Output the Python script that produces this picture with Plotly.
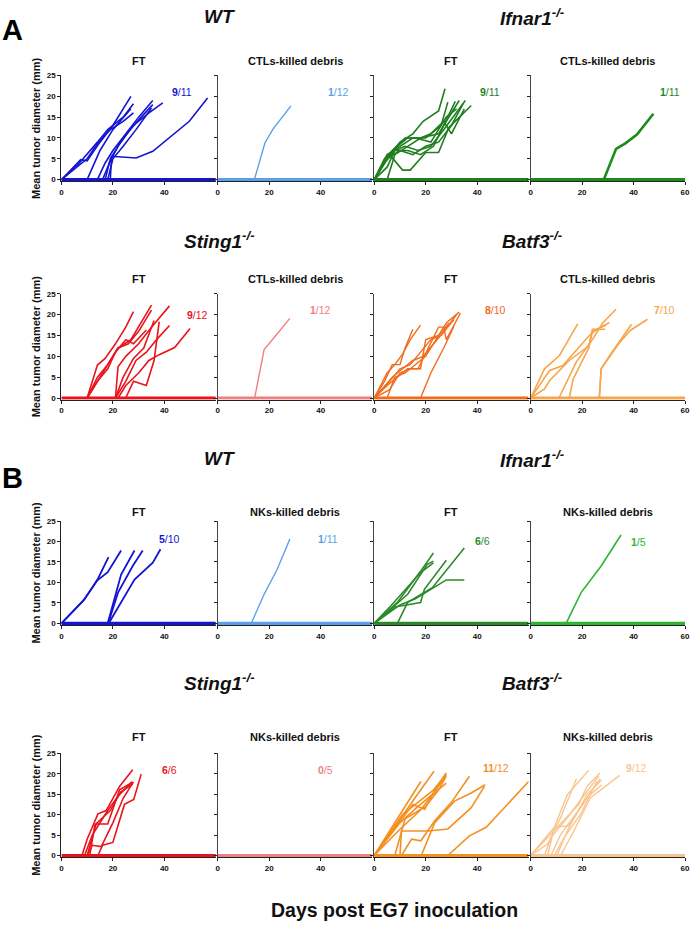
import plotly.graph_objects as go

W, H = 696, 926

# ---------------- DATA (days post inoculation, mean tumour diameter mm) ----------------
# Panel A, row 1: WT
A_WT_FT_DAYS = [[0, 7.5, 10, 15, 20, 27], [0, 7, 14, 18, 24, 28], [0, 10, 15, 19, 24, 28],
                [10, 15, 20, 27], [14, 17, 20, 25, 30, 35.5], [16, 19, 22, 26, 31, 35.5],
                [18, 20, 24, 29, 35], [17, 19, 23, 28, 34, 39.4],
                [19, 19.5, 29, 35.5, 49.7, 56.8]]
A_WT_FT_MM = [[0, 4.8, 4.5, 9, 13, 20], [0, 4, 9, 12, 15, 18.2], [0, 5, 9.5, 12, 14, 16],
              [0, 7, 12, 17], [0, 4, 7, 11, 15, 19], [0, 4.5, 8, 11.5, 15, 18],
              [0, 5, 8, 12, 17.2], [0, 5, 9, 13, 16, 18.4],
              [0, 5.6, 5.2, 6.8, 14, 19.6]]
A_WT_CTL_DAYS = [[14.2, 18.3, 21.3, 28.4]]
A_WT_CTL_MM = [[0, 8.8, 12, 17.7]]

# Panel A, row 1: Ifnar1-/-
A_IF_FT_DAYS = [[0, 5, 10, 15, 19, 25, 27.5], [0, 5, 10, 15, 20, 26, 28.6],
                [0, 4, 8, 13, 18, 23, 27, 31.5], [0, 5, 8, 12, 17, 22, 27, 35.4],
                [0, 6, 11, 14, 20, 25, 29, 37.7], [0, 5, 10, 15, 20, 25, 30, 34.5],
                [5, 8, 13, 18, 22, 27, 30, 35], [0, 4, 9, 13, 18, 25, 30, 33],
                [0, 7, 12, 16, 22, 28, 32]]
A_IF_FT_MM = [[0, 5, 9, 11, 14, 16.5, 21.8], [0, 6, 8, 10, 10, 13, 18.6],
              [0, 4, 7, 7, 6, 8, 13, 18.8], [0, 3, 7, 8, 7, 8, 12, 19],
              [0, 6, 2.3, 2.3, 6.5, 6.5, 12.5, 17.8], [0, 5, 7, 6, 8, 9, 13, 18.2],
              [0, 6, 8, 10, 11, 14, 11, 17], [0, 5, 8, 10, 10, 11, 16, 19],
              [0, 7, 10, 10, 9, 15, 17]]
A_IF_CTL_DAYS = [[28.4, 33.2, 36.8, 41.3, 47.7]]
A_IF_CTL_MM = [[0, 7.4, 8.7, 10.8, 15.8]]

# Panel A, row 2: Sting1-/-
A_ST_FT_DAYS = [[10, 14, 17, 21, 25, 28], [10, 14, 18, 22, 27, 30, 35],
                [10, 14, 18, 21, 25, 28, 33], [10, 15, 19, 22, 26, 30, 35],
                [21, 22, 25, 30, 35, 42], [21, 25, 29, 33, 37, 42],
                [22, 25, 30, 34, 38, 44, 50], [25, 28, 33, 36, 38],
                [21, 24, 28, 32, 36]]
A_ST_FT_MM = [[0, 7.9, 9.5, 13, 17, 20.7], [0, 5, 8, 12, 14, 17, 22.3],
              [0, 4, 7, 11, 14, 13, 16.3], [0, 5, 9, 12, 13, 16, 21.1],
              [0, 7.5, 10, 13, 17, 22.1], [0, 4, 9, 11, 14, 17.4],
              [0, 3, 6, 9, 10.4, 12.1, 16.7], [0, 4, 3, 9, 18.3],
              [0, 5, 9.5, 12, 18.6]]
A_ST_CTL_DAYS = [[14.3, 18, 21.9, 28]]
A_ST_CTL_MM = [[0, 11.6, 14.5, 19.1]]

# Panel A, row 2: Batf3-/-
A_BA_FT_DAYS = [[0, 4, 7, 10, 12, 15], [0, 5, 8, 11, 14, 18],
                [0, 5, 9, 13, 17, 21, 25, 27, 28, 33.5], [0, 6, 10, 14, 18, 22, 26, 32],
                [0, 7, 11, 15, 19, 23, 27, 31], [5, 8, 12, 16, 20, 24, 28, 33],
                [0, 6, 10, 14, 18, 20, 25, 29], [18, 22, 27, 31]]
A_BA_FT_MM = [[0, 4, 8, 8, 12, 16.5], [0, 6, 8, 10.5, 14, 17.5],
              [0, 3, 5, 7, 7, 12, 17, 17, 14, 20.4], [0, 4, 7, 8, 11, 14, 15, 20],
              [0, 5, 7, 9, 10, 13, 16, 18.8], [0, 5, 6, 8, 10, 14, 18, 20.6],
              [0, 2, 6, 7, 7, 14, 15, 18], [0, 6, 12, 17.2]]
A_BA_CTL_DAYS = [[0, 5.4, 11.2, 18.3], [0, 7.4, 12.5, 22.8, 26, 30.6],
                 [0, 5.4, 7.4, 15, 22.6, 24, 29], [11, 17.7, 24, 28, 33.2],
                 [15, 16.5, 22.6, 24, 29.3], [26.7, 27.4, 31.2, 39.2],
                 [26.7, 27.4, 34.2, 38.7, 45.4]]
A_BA_CTL_MM = [[0, 7, 10.2, 17.8], [0, 6.6, 7.8, 15, 16.5, 18.1],
               [0, 2.2, 4.2, 9, 12.5, 16.5, 16.5], [0, 8.6, 14, 18, 21.3],
               [0, 4.5, 12, 16, 17.5], [0, 7, 10.6, 17.7],
               [0, 7, 13, 16.2, 18.9]]

# Panel B, row 3: WT
B_WT_FT_DAYS = [[0, 9, 14.2, 18.3], [0, 8.5, 14, 18, 23.2], [18, 23.2, 28.4],
                [18.2, 22, 27.7, 31.6], [18.4, 28.4, 35.5, 38.5]]
B_WT_FT_MM = [[0, 5.9, 10.9, 16.2], [0, 5.5, 10.5, 12.5, 17.8], [0, 11.9, 17.8],
              [0, 7.5, 14, 17.8], [0, 10.7, 14.8, 18.1]]
B_WT_NK_DAYS = [[13, 18, 23, 28]]
B_WT_NK_MM = [[0, 7.1, 13.1, 20.6]]

# Panel B, row 3: Ifnar1-/-
B_IF_FT_DAYS = [[0, 9, 18, 23], [0, 13, 20.6, 23], [0, 8, 18, 19.5, 28],
                [0, 6.5, 18, 23], [9, 13, 22.6, 35], [0, 10, 16, 23, 28, 35]]
B_IF_FT_MM = [[0, 5.1, 12.7, 17.2], [0, 7.1, 14.4, 15.2], [0, 4, 5.1, 8.3, 15.4],
              [0, 4.3, 12.4, 14.8], [0, 5.1, 8.7, 18.4], [0, 4.5, 6, 8.7, 10.6, 10.6]]
B_IF_NK_DAYS = [[13.8, 19.6, 27.4, 35.1]]
B_IF_NK_MM = [[0, 7.5, 14, 21.6]]

# Panel B, row 4: Sting1-/-
B_ST_FT_DAYS = [[8, 10, 14.2, 17.4, 22.6, 27.7], [10, 13.5, 18, 22.6, 27.7],
                [10, 12, 15.5, 20, 24, 28], [14.2, 16, 20, 24.5, 28.1, 31],
                [11, 13, 19, 23, 27.7], [9, 12, 18, 22, 27.4]]
B_ST_FT_MM = [[0, 4, 10.2, 11, 16.9, 21], [0, 7.7, 7.7, 16.1, 17.9],
              [0, 2.5, 2.2, 8, 14, 18], [0, 2.5, 3.2, 12.5, 13.7, 19.9],
              [0, 7.5, 11, 15.5, 17.5], [0, 5, 11, 14.5, 18]]
B_ST_NK_DAYS = []
B_ST_NK_MM = []

# Panel B, row 4: Batf3-/-
B_BA_FT_DAYS = [[0, 6, 13.2, 18.1], [0, 8, 16, 23.2], [0, 12, 15, 19.6, 24.8, 28],
                [0, 11, 17, 23, 28], [0, 10, 17, 23, 28], [0, 9.3, 18.3, 27.4],
                [10, 10.6, 20.9, 28.6, 37.7, 42.8], [10.6, 14.5, 18.1, 23.5, 30, 37],
                [18.3, 23.5, 31.2, 37.7, 43.1], [28.6, 37, 43.5, 60],
                [8, 12, 20, 25, 28]]
B_BA_FT_MM = [[0, 6, 13.3, 18.1], [0, 7, 14, 20.6], [0, 10, 12.5, 11.3, 17.3, 20.2],
              [0, 10, 13, 16, 19.8], [0, 8, 12, 15, 17.7], [0, 6, 11.3, 19],
              [0, 6, 6, 6.5, 11.7, 16.9], [0, 4, 3.6, 8.5, 13, 19.4],
              [0, 8, 13.3, 15.3, 17.3], [0, 4.8, 6.9, 18.1],
              [0, 9, 12, 16, 19.5]]
B_BA_NK_DAYS = [[0, 6.6, 11.7, 17.8], [0, 9.2, 14.3, 22.5], [0, 7.9, 18.7, 22, 27],
                [5.4, 7.9, 14.3, 26.4], [7.9, 11.7, 19.4, 27], [9.2, 13, 19.4, 25.7],
                [10.2, 14.9, 21.9, 27.6], [11.7, 16.8, 23.2, 34.6],
                [6.6, 9.2, 14.9, 21.9, 27.6]]
B_BA_NK_MM = [[0, 2.8, 9.3, 18.8], [0, 6.9, 14.9, 20.8], [0, 5.2, 12.5, 17, 20.2],
              [0, 4.4, 9.3, 19.4], [0, 5.2, 11.7, 18.8], [0, 4.4, 10.1, 18.1],
              [0, 6.9, 14.9, 18.5], [0, 6, 14.1, 19.6],
              [0, 6.9, 7.3, 14.1, 17.3]]

# tumour-take fractions (numerator, denominator)
FRACTIONS = [("9", "11"), ("1", "12"), ("9", "11"), ("1", "11"),
             ("9", "12"), ("1", "12"), ("8", "10"), ("7", "10"),
             ("5", "10"), ("1", "11"), ("6", "6"), ("1", "5"),
             ("6", "6"), ("0", "5"), ("11", "12"), ("9", "12")]
# fraction label position (day, mm)
FRAC_X = [47, 47, 45, 54, 53, 40, 47, 52, 42, 43, 42, 42, 42, 42, 47.5, 41]
FRAC_Y = [21, 21, 21, 21, 20, 21, 21.2, 21.2, 20.6, 20.6, 20.1, 20, 21, 21, 21.3, 21.3]

X_TICKS = [0, 20, 40, 60]
Y_TICKS = [0, 5, 10, 15, 20, 25]

SUBTITLES = ["FT", "CTLs-killed debris", "FT", "CTLs-killed debris",
             "FT", "CTLs-killed debris", "FT", "CTLs-killed debris",
             "FT", "NKs-killed debris", "FT", "NKs-killed debris",
             "FT", "NKs-killed debris", "FT", "NKs-killed debris"]
GROUPS = [["<i><b>WT</b></i>", "<i><b>Ifnar1<sup>-/-</sup></b></i>"],
          ["<i><b>Sting1<sup>-/-</sup></b></i>", "<i><b>Batf3<sup>-/-</sup></b></i>"],
          ["<i><b>WT</b></i>", "<i><b>Ifnar1<sup>-/-</sup></b></i>"],
          ["<i><b>Sting1<sup>-/-</sup></b></i>", "<i><b>Batf3<sup>-/-</sup></b></i>"]]

PANEL_DAYS = [A_WT_FT_DAYS, A_WT_CTL_DAYS, A_IF_FT_DAYS, A_IF_CTL_DAYS,
              A_ST_FT_DAYS, A_ST_CTL_DAYS, A_BA_FT_DAYS, A_BA_CTL_DAYS,
              B_WT_FT_DAYS, B_WT_NK_DAYS, B_IF_FT_DAYS, B_IF_NK_DAYS,
              B_ST_FT_DAYS, B_ST_NK_DAYS, B_BA_FT_DAYS, B_BA_NK_DAYS]
PANEL_MM = [A_WT_FT_MM, A_WT_CTL_MM, A_IF_FT_MM, A_IF_CTL_MM,
            A_ST_FT_MM, A_ST_CTL_MM, A_BA_FT_MM, A_BA_CTL_MM,
            B_WT_FT_MM, B_WT_NK_MM, B_IF_FT_MM, B_IF_NK_MM,
            B_ST_FT_MM, B_ST_NK_MM, B_BA_FT_MM, B_BA_NK_MM]

# ---------------- STYLE ----------------
COLORS = ["#1414d2", "#5b9fe6", "#1f7f1f", "#1d8a1d",
          "#e8141c", "#f08080", "#f26a1b", "#f7a64c",
          "#1414d2", "#5b9fe6", "#2a8a2a", "#2fb52f",
          "#e8141c", "#f08080", "#f3901f", "#f9c58e"]
LINE_W = [1.6, 1.4, 1.6, 2.6, 1.6, 1.4, 1.4, 1.6,
          1.8, 1.4, 1.6, 1.6, 1.6, 1.4, 1.6, 1.4]

FONT = "Liberation Sans, Arial, sans-serif"
COL_X0 = [60, 218, 376, 534]
COL_W = 156
ROW_Y0 = [177, 397, 624, 858]
ROW_Y25 = [72, 292, 521, 755]
YMIN = -0.4

fig = go.Figure()
layout = {}
annotations = []

for k in range(16):
    r, c = divmod(k, 4)
    ax = "" if k == 0 else str(k + 1)
    xa, ya = "x" + ax, "y" + ax
    color = COLORS[k]
    # baseline (tumour-free mice)
    fig.add_trace(go.Scatter(x=[0, 60], y=[0, 0], mode="lines", xaxis=xa, yaxis=ya,
                             line=dict(color=color, width=3.2), showlegend=False,
                             hoverinfo="skip"))
    for d, m in zip(PANEL_DAYS[k], PANEL_MM[k]):
        fig.add_trace(go.Scatter(x=d, y=m, mode="lines", xaxis=xa, yaxis=ya,
                                 line=dict(color=color, width=LINE_W[k]),
                                 showlegend=False))
    x0 = COL_X0[c]
    x1 = x0 + COL_W
    pxmm = (ROW_Y0[r] - ROW_Y25[r]) / 25.0
    ybot = ROW_Y0[r] - YMIN * pxmm
    ytop = ROW_Y25[r]
    tv = X_TICKS if c == 3 else X_TICKS[:3]
    layout["xaxis" + ax] = dict(domain=[x0 / W, x1 / W], range=[0, 60], anchor=ya,
                                showgrid=False, zeroline=False, showline=True,
                                linecolor="#222", linewidth=1.2,
                                ticks="outside", ticklen=3, tickwidth=1, tickcolor="#222",
                                tickvals=tv, ticktext=[str(v) for v in tv],
                                ticklabeloverflow="allow",
                                tickfont=dict(family=FONT, size=8, color="#111", weight="bold"),
                                fixedrange=True)
    layout["yaxis" + ax] = dict(domain=[1 - ybot / H, 1 - ytop / H], range=[YMIN, 25],
                                anchor=xa, showgrid=False, zeroline=False, showline=True,
                                linecolor="#222" if c == 0 else "#444", linewidth=1.2,
                                ticks="outside", ticklen=3, tickwidth=1, tickcolor="#222",
                                tickvals=Y_TICKS,
                                showticklabels=(c == 0),
                                tickfont=dict(family=FONT, size=8, color="#111", weight="bold"),
                                fixedrange=True)
    if c == 0:
        layout["yaxis" + ax]["title"] = dict(
            text="<b>Mean tumor diameter (mm)</b>", standoff=3,
            font=dict(family=FONT, size=11, color="#111"))
    # subtitle
    sub_y = [57, 277, 512, 739][r]
    annotations.append(dict(text="<b>%s</b>" % SUBTITLES[k], x=(x0 + COL_W / 2) / W,
                            y=1 - sub_y / H, xref="paper", yref="paper",
                            showarrow=False, xanchor="center", yanchor="middle",
                            font=dict(family=FONT, size=11, color="#111")))
    num, den = FRACTIONS[k]
    annotations.append(dict(text="<b>%s</b>/%s" % (num, den), x=FRAC_X[k], y=FRAC_Y[k],
                            xref=xa, yref=ya, showarrow=False,
                            xanchor="center", yanchor="middle",
                            font=dict(family=FONT, size=10.5, color=color)))

# group titles
GROUP_Y = [13, 238, 458, 683]
for r in range(4):
    for g in range(2):
        cx = COL_X0[2 * g + 1] + 2
        annotations.append(dict(text=GROUPS[r][g], x=cx / W, y=1 - GROUP_Y[r] / H,
                                xref="paper", yref="paper", showarrow=False,
                                xanchor="center", yanchor="middle",
                                font=dict(family=FONT, size=19, color="#111")))

# panel letters
for letter, py in [("A", 26), ("B", 478)]:
    annotations.append(dict(text="<b>%s</b>" % letter, x=11 / W, y=1 - py / H,
                            xref="paper", yref="paper", showarrow=False,
                            xanchor="center", yanchor="middle",
                            font=dict(family=FONT, size=29, color="#000")))

# common x-axis title
annotations.append(dict(text="<b>Days post EG7 inoculation</b>", x=396 / W, y=1 - 913 / H,
                        xref="paper", yref="paper", showarrow=False,
                        xanchor="center", yanchor="middle",
                        font=dict(family=FONT, size=19.5, color="#111")))

fig.update_layout(width=W, height=H, margin=dict(l=0, r=0, t=0, b=0),
                  paper_bgcolor="white", plot_bgcolor="white",
                  annotations=annotations, **layout)

fig.write_html("out.html", config={"displayModeBar": False},
               post_script="document.body.style.margin='0';document.body.style.overflow='hidden';")
